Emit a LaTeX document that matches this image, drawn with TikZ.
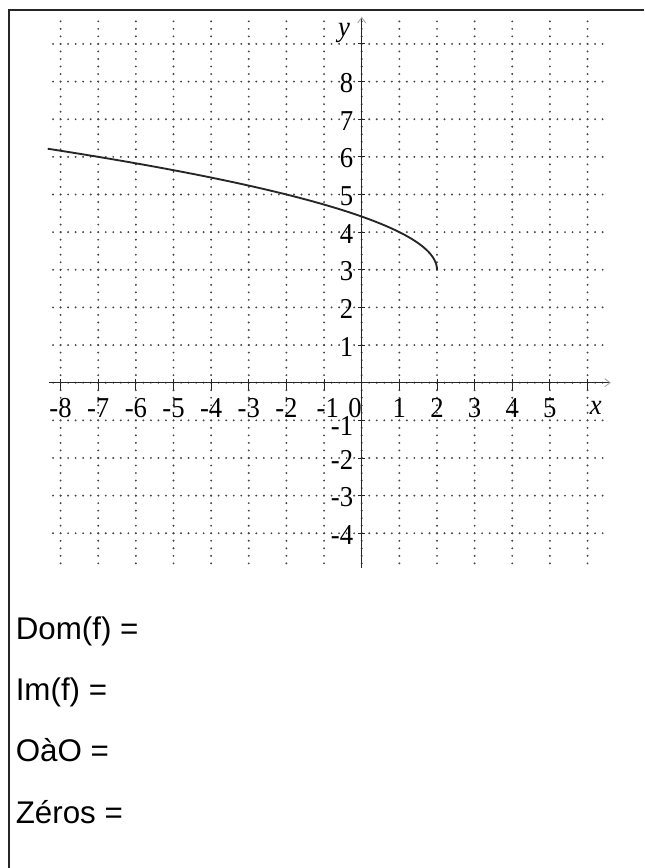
\documentclass[tikz,border=0pt]{standalone}
\usepackage{fontspec}
\setmainfont{Liberation Serif}
\newfontfamily\arialfont{Liberation Sans}
\usetikzlibrary{arrows.meta}
\begin{document}
\begin{tikzpicture}[x=0.75pt,y=0.75pt,
  gridline/.style={line width=1.6pt, black!72, line cap=round, dash pattern=on 0pt off 5.646pt},
  axisline/.style={line width=0.7pt, black!85},
  curveline/.style={line width=1.4pt, black!85},
  lbl/.style={font=\fontsize{20}{20}\selectfont, inner sep=0pt, yscale=1.08},
  qtext/.style={font=\arialfont\fontsize{23.5}{24}\selectfont, anchor=base west, inner sep=0pt},
  framestyle/.style={line width=1.3pt, black!85}]
\useasboundingbox (0,0) rectangle (644,868);
% frame
\coordinate (fb) at (9,0);
\coordinate (fc) at (9,858);
\coordinate (fr) at (644,858);
\draw[framestyle] (fb) -- (fc) -- (fr);
\begin{scope}[shift={(361.7,485.3)}, x=28.23pt, y=28.23pt]
  % dotted grid
  \foreach \i in {-8,...,6} \draw[gridline] (\i,9.6) -- (\i,-4.8);
  \foreach \j in {-4,...,9} \draw[gridline] (-8.2,\j) -- (6.4,\j);
  % axes
  \coordinate (xs) at (-8.32,0);
  \coordinate (xe) at (6.62,0);
  \coordinate (ys) at (0,-4.92);
  \coordinate (ye) at (0,9.72);
  \draw[axisline, -{Straight Barb[length=4pt,width=6pt,color=black!35]}] (xs) -- (xe);
  \draw[axisline, -{Straight Barb[length=4pt,width=6pt,color=black!35]}] (ys) -- (ye);
  % ticks
  \foreach \i in {-8,...,6} \draw[axisline] (\i,0.1) -- (\i,-0.2);
  \foreach \j in {-4,...,9} \draw[axisline] (-0.1,\j) -- (0.1,\j);
  % curve
  \draw[curveline, domain=0:3.216, samples=120, smooth] plot ({2-\x*\x}, {3+\x});
  % x labels
  \foreach \i in {-8,...,-2} \node[lbl] (xl\i) at (\i,-0.68) {\i};
  \node[lbl] (xlm1) at (-0.9,-0.68) {-1};
  \node[lbl] (xl0) at (-0.18,-0.68) {0};
  \foreach \i in {1,...,5} \node[lbl] (xl\i) at (\i,-0.68) {\i};
  \node[lbl] (xlab) at (6.22,-0.66) {\textit{x}};
  % y labels
  \foreach \j in {1,...,8} \node[lbl, anchor=east] (yl\j) at (-0.22,\j-0.04) {\j};
  \node[lbl, anchor=east] (ylm1) at (-0.22,-1.16) {-1};
  \foreach \j in {-4,...,-2} \node[lbl, anchor=east] (yl\j) at (-0.22,\j-0.04) {\j};
  \node[lbl] (ylab) at (-0.47,9.29) {\textit{y}};
\end{scope}
% questions
\node[qtext] (dom) at (15.5,228) {Dom(f) =};
\node[qtext] (im) at (15.5,167) {Im(f) =};
\node[qtext] (oao) at (15.5,106.5) {OàO =};
\node[qtext] (zer) at (15.5,44) {Zéros =};
\end{tikzpicture}
\end{document}
